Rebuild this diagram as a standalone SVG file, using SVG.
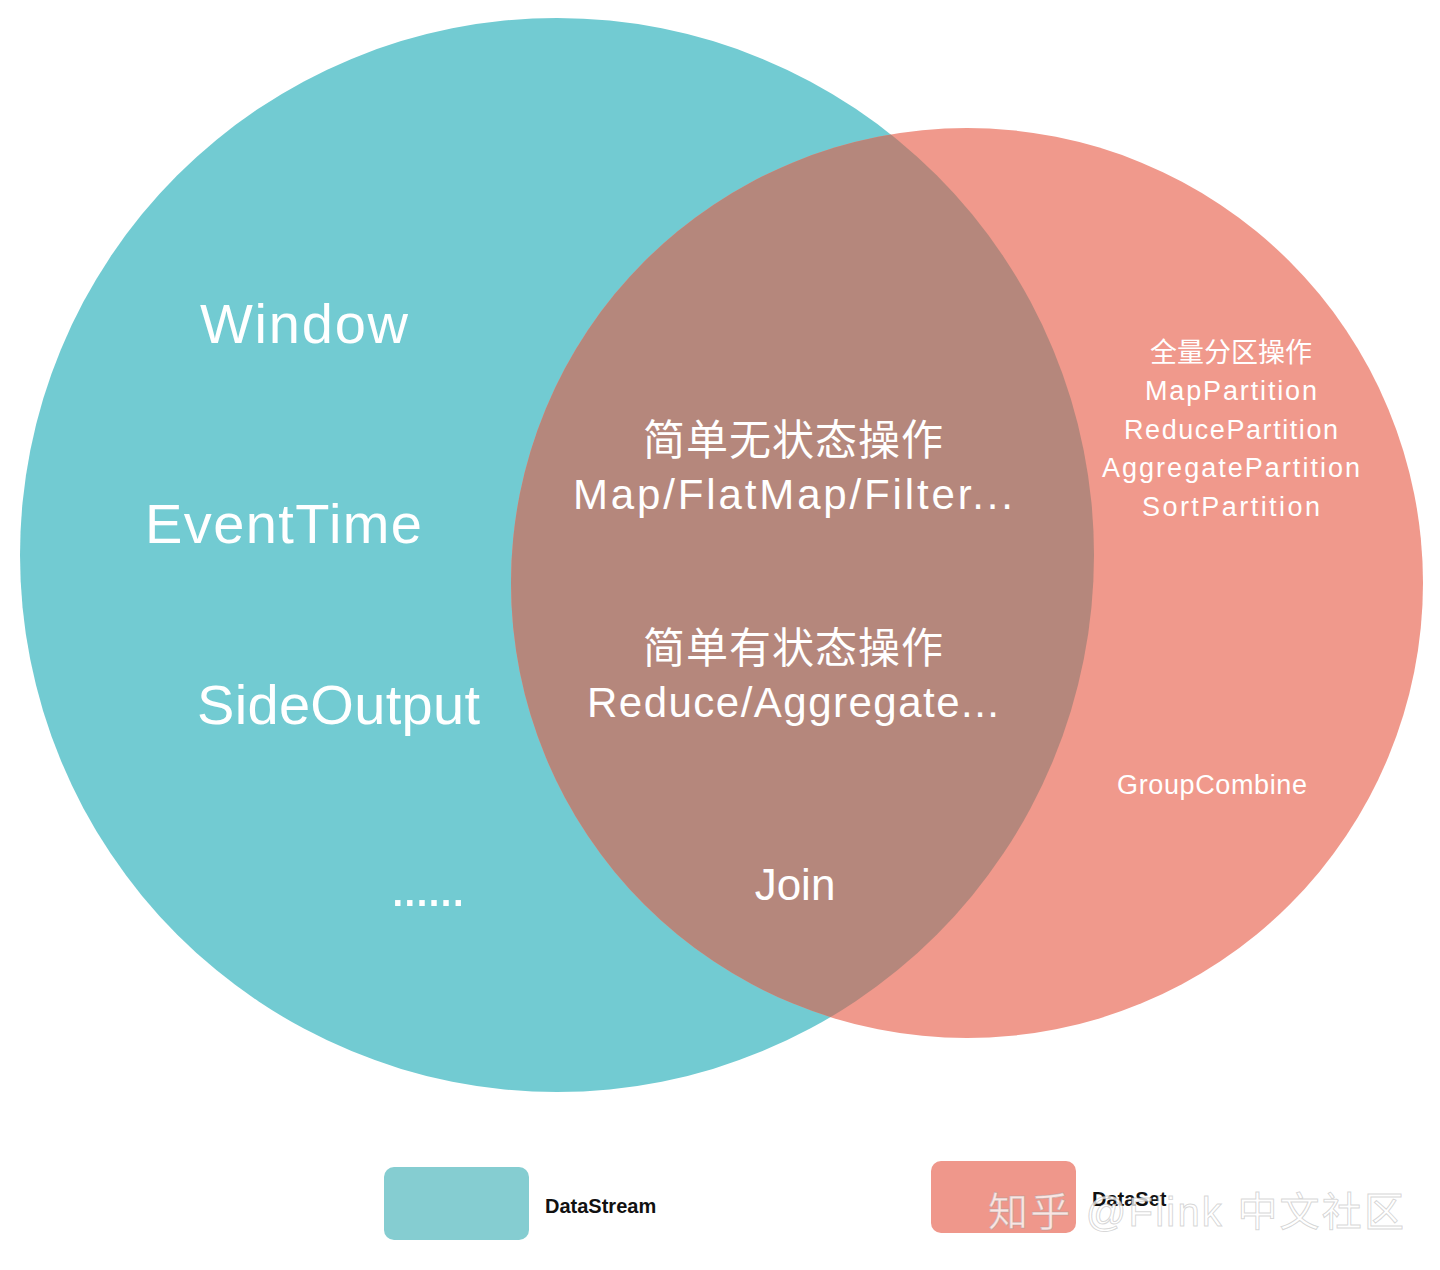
<svg xmlns="http://www.w3.org/2000/svg" width="1440" height="1270" viewBox="0 0 1440 1270">
<style>
text{font-family:"Liberation Sans","Noto Sans CJK SC",sans-serif;fill:#fff;}
.big{font-size:56px;}
.mid{font-size:42px;text-anchor:middle;}
.sm{font-size:27px;text-anchor:middle;}
.leg{font-size:20px;fill:#111;font-weight:bold;}
</style>
<defs>
<clipPath id="redc"><ellipse cx="967" cy="583" rx="456" ry="455"/></clipPath>
</defs>
<rect width="1440" height="1270" fill="#fff"/>
<g id="datastream"><circle cx="557" cy="555" r="537" fill="#72cbd2"/></g>
<g id="dataset"><ellipse cx="967" cy="583" rx="456" ry="455" fill="#f0998c"/></g>
<g id="overlap"><circle cx="557" cy="555" r="537" fill="#b5877c" clip-path="url(#redc)"/></g>
<g id="stream-only">
<text class="big" x="200" y="343" textLength="208">Window</text>
<text class="big" x="145" y="543" textLength="277">EventTime</text>
<text class="big" x="197" y="724" textLength="283">SideOutput</text>
<text class="big" x="390" y="906" textLength="76">......</text>
</g>
<g id="common">
<text class="mid" x="793" y="455" textLength="300">简单无状态操作</text>
<text class="mid" x="793" y="509" textLength="440">Map/FlatMap/Filter...</text>
<text class="mid" x="793" y="663" textLength="300">简单有状态操作</text>
<text class="mid" x="793" y="717" textLength="412">Reduce/Aggregate...</text>
<text class="mid" x="795" y="900" style="font-size:44px">Join</text>
</g>
<g id="set-only">
<text class="sm" x="1231" y="362">全量分区操作</text>
<text class="sm" x="1231" y="400" textLength="172">MapPartition</text>
<text class="sm" x="1231" y="439" textLength="214">ReducePartition</text>
<text class="sm" x="1231" y="477" textLength="258">AggregatePartition</text>
<text class="sm" x="1231" y="516" textLength="178">SortPartition</text>
<text class="sm" x="1212" y="794" textLength="190">GroupCombine</text>
</g>
<g id="legend">
<rect x="384" y="1167" width="145" height="73" rx="10" fill="#85cdd1"/>
<text class="leg" x="545" y="1213">DataStream</text>
<rect x="931" y="1161" width="145" height="72" rx="10" fill="#ef978b"/>
<text class="leg" x="1092" y="1206">DataSet</text>
</g>
<g id="watermark"><text x="988" y="1226" textLength="416" style="font-size:40px;fill:#fff;fill-opacity:0.75;stroke:#999;stroke-width:1;stroke-opacity:0.4">知乎 @Flink 中文社区</text></g>
</svg>
